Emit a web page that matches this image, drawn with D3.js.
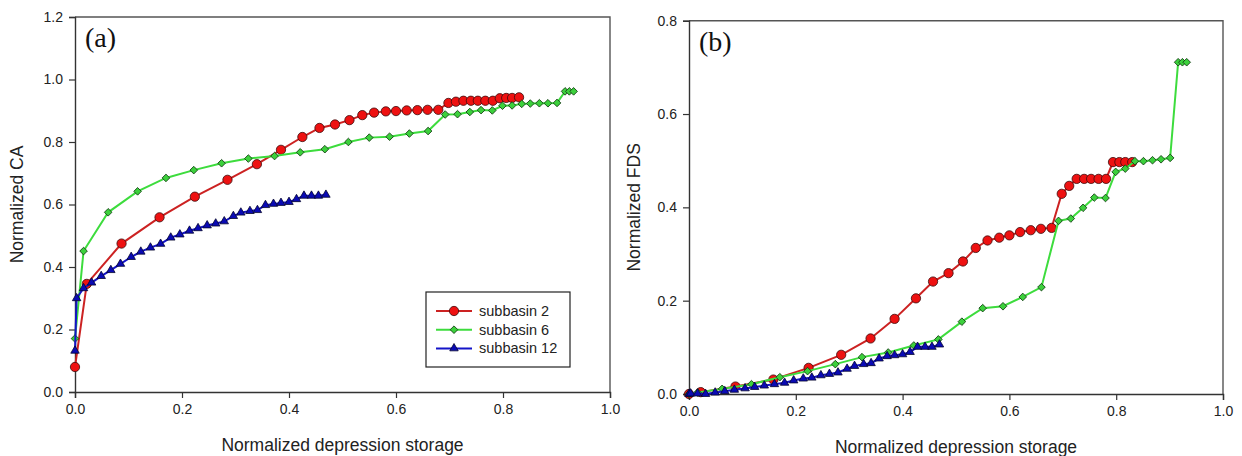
<!DOCTYPE html>
<html>
<head>
<meta charset="utf-8">
<script src="https://cdn.jsdelivr.net/npm/d3@7"></script>
<style>
  html, body { margin: 0; padding: 0; background: #fff; }
  svg { display: block; }
</style>
</head>
<body>
<svg id="chart" width="1242" height="456"></svg>
<script>
// Normalized depression storage (x) for each subbasin
const xSub2 = [0, 0.022, 0.087, 0.158, 0.224, 0.285, 0.340, 0.385, 0.425, 0.457, 0.486,
  0.513, 0.537, 0.559, 0.581, 0.600, 0.620, 0.640, 0.659, 0.679, 0.698, 0.712, 0.726,
  0.740, 0.753, 0.767, 0.781, 0.794, 0.806, 0.817, 0.830];
const xSub6 = [0, 0.016, 0.062, 0.117, 0.170, 0.222, 0.274, 0.324, 0.373, 0.421, 0.467,
  0.511, 0.550, 0.588, 0.625, 0.660, 0.692, 0.715, 0.738, 0.759, 0.780, 0.799, 0.817,
  0.835, 0.851, 0.868, 0.884, 0.901, 0.916, 0.924, 0.932];
const xSub12 = [0, 0.003, 0.016, 0.031, 0.049, 0.067, 0.085, 0.105, 0.123, 0.141, 0.160,
  0.179, 0.196, 0.214, 0.230, 0.247, 0.263, 0.279, 0.296, 0.310, 0.327, 0.341, 0.356,
  0.371, 0.385, 0.400, 0.414, 0.428, 0.442, 0.455, 0.469];

// Normalized CA, panel (a)
const caSub2 = [0.08, 0.346, 0.475, 0.559, 0.625, 0.679, 0.729, 0.775, 0.816, 0.845, 0.856,
  0.870, 0.886, 0.894, 0.898, 0.899, 0.901, 0.902, 0.903, 0.903, 0.925, 0.929, 0.932,
  0.932, 0.932, 0.932, 0.932, 0.940, 0.941, 0.941, 0.943];
const caSub6 = [0.171, 0.451, 0.575, 0.642, 0.685, 0.710, 0.732, 0.747, 0.755, 0.767, 0.777,
  0.800, 0.814, 0.817, 0.827, 0.835, 0.888, 0.889, 0.896, 0.902, 0.901, 0.916, 0.917,
  0.922, 0.923, 0.924, 0.924, 0.925, 0.962, 0.962, 0.962];
const caSub12 = [0.132, 0.300, 0.332, 0.350, 0.371, 0.390, 0.410, 0.432, 0.449, 0.462, 0.474,
  0.494, 0.504, 0.516, 0.524, 0.533, 0.539, 0.546, 0.563, 0.574, 0.579, 0.582, 0.598,
  0.602, 0.605, 0.608, 0.617, 0.628, 0.628, 0.628, 0.631];

// Normalized FDS, panel (b)
const fdsSub2 = [0.0, 0.004, 0.016, 0.031, 0.056, 0.084, 0.119, 0.161, 0.205, 0.241, 0.259,
  0.284, 0.313, 0.329, 0.335, 0.340, 0.347, 0.351, 0.354, 0.356, 0.429, 0.446, 0.461,
  0.461, 0.461, 0.461, 0.461, 0.497, 0.497, 0.497, 0.497];
const fdsSub6 = [0.0, 0.003, 0.011, 0.021, 0.036, 0.049, 0.064, 0.079, 0.089, 0.104, 0.117,
  0.155, 0.184, 0.188, 0.208, 0.229, 0.371, 0.376, 0.399, 0.421, 0.420, 0.476, 0.483,
  0.499, 0.499, 0.501, 0.503, 0.506, 0.711, 0.711, 0.711];
const fdsSub12 = [0.0, 0.001, 0.001, 0.0, 0.003, 0.006, 0.009, 0.012, 0.015, 0.018, 0.021,
  0.024, 0.029, 0.033, 0.035, 0.040, 0.043, 0.046, 0.054, 0.060, 0.064, 0.066, 0.076,
  0.081, 0.083, 0.085, 0.090, 0.101, 0.101, 0.101, 0.106];

const xTicks = [0, 0.2, 0.4, 0.6, 0.8, 1.0];
const caTicks = [0, 0.2, 0.4, 0.6, 0.8, 1.0, 1.2];
const fdsTicks = [0, 0.2, 0.4, 0.6, 0.8];
const seriesNames = ["subbasin 2", "subbasin 6", "subbasin 12"];

const SANS = "Arial, 'Liberation Sans', sans-serif";
const SERIF = "'Liberation Serif', 'Times New Roman', serif";

const styles = [
  { line: "#cc2222", fill: "#ee1111", stroke: "#3a0d0d", shape: "circle" },
  { line: "#3ddc3d", fill: "#3cd03c", stroke: "#0f3a0f", shape: "diamond" },
  { line: "#1414c8", fill: "#0a0ab4", stroke: "#05052e", shape: "triangle" }
];

const svg = d3.select("#chart");

function markerPath(shape) {
  if (shape === "circle") return d3.symbol(d3.symbolCircle, 68)();
  if (shape === "diamond") return d3.symbol(d3.symbolSquare, 29)();
  return d3.symbol(d3.symbolTriangle, 31)();
}

function drawPanel(cfg) {
  const x = d3.scaleLinear().domain([0, 1]).range([cfg.left, cfg.right]);
  const y = d3.scaleLinear().domain([0, cfg.ymax]).range([cfg.bottom, cfg.top]);
  const g = svg.append("g");

  // frame: top and right edges
  g.append("path")
    .attr("d", `M${cfg.left},${cfg.top}H${cfg.right}V${cfg.bottom}`)
    .attr("fill", "none").attr("stroke", "#555").attr("stroke-width", 1.4);

  const xAxis = g.append("g")
    .attr("transform", `translate(0,${cfg.bottom})`)
    .call(d3.axisBottom(x).tickValues(xTicks).tickFormat(d3.format(".1f")).tickSize(6).tickPadding(6));
  const yAxis = g.append("g")
    .attr("transform", `translate(${cfg.left},0)`)
    .call(d3.axisLeft(y).tickValues(cfg.yTicks).tickFormat(d3.format(".1f")).tickSize(6).tickPadding(6));
  [xAxis, yAxis].forEach(a => {
    a.select(".domain").attr("stroke", "#333").attr("stroke-width", 1.4);
    a.selectAll(".tick line").attr("stroke", "#333").attr("stroke-width", 1.2);
    a.selectAll(".tick text").attr("font-size", 14).attr("fill", "#222")
      .attr("font-family", SANS);
  });

  // axis titles
  g.append("text")
    .attr("x", (cfg.left + cfg.right) / 2).attr("y", cfg.xTitleY)
    .attr("text-anchor", "middle").attr("font-size", 17.5)
    .attr("font-family", SANS).attr("fill", "#222")
    .text("Normalized depression storage");
  g.append("text")
    .attr("transform", `translate(${cfg.yTitleX},${(cfg.top + cfg.bottom) / 2}) rotate(-90)`)
    .attr("text-anchor", "middle").attr("font-size", 17.5)
    .attr("font-family", SANS).attr("fill", "#222")
    .text(cfg.yTitle);

  // panel tag
  g.append("text")
    .attr("x", cfg.left + 10).attr("y", cfg.top + 30)
    .attr("font-family", SERIF)
    .attr("font-size", 28).attr("fill", "#111")
    .text(cfg.tag);

  const line = d3.line().x(d => x(d[0])).y(d => y(d[1]));
  cfg.series.forEach((s, i) => {
    const st = styles[i];
    const pts = s.xs.map((v, k) => [v, s.ys[k]]);
    const sg = g.append("g");
    sg.append("path").datum(pts)
      .attr("d", line).attr("fill", "none")
      .attr("stroke", st.line).attr("stroke-width", 2);
    sg.selectAll("path.m").data(pts).enter().append("path")
      .attr("class", "m")
      .attr("d", markerPath(st.shape))
      .attr("transform", d => `translate(${x(d[0])},${y(d[1])})` + (st.shape === "diamond" ? " rotate(45)" : ""))
      .attr("fill", st.fill).attr("stroke", st.stroke).attr("stroke-width", 0.8);
  });
  return { x, y, g };
}

drawPanel({
  left: 75, right: 610, top: 17, bottom: 392, ymax: 1.2, yTicks: caTicks,
  xTitleY: 451, yTitleX: 23, yTitle: "Normalized CA", tag: "(a)",
  series: [
    { xs: xSub2, ys: caSub2 },
    { xs: xSub6, ys: caSub6 },
    { xs: xSub12, ys: caSub12 }
  ]
});

drawPanel({
  left: 689, right: 1223, top: 20.7, bottom: 394, ymax: 0.8, yTicks: fdsTicks,
  xTitleY: 453, yTitleX: 640, yTitle: "Normalized FDS", tag: "(b)",
  series: [
    { xs: xSub2, ys: fdsSub2 },
    { xs: xSub6, ys: fdsSub6 },
    { xs: xSub12, ys: fdsSub12 }
  ]
});

// legend in panel (a)
const lg = svg.append("g").attr("transform", "translate(426,292)");
lg.append("rect").attr("width", 144).attr("height", 75)
  .attr("fill", "#fff").attr("stroke", "#222").attr("stroke-width", 1.2);
seriesNames.forEach((name, i) => {
  const st = styles[i];
  const yy = 19 + i * 18.7;
  lg.append("line").attr("x1", 10).attr("x2", 46).attr("y1", yy).attr("y2", yy)
    .attr("stroke", st.line).attr("stroke-width", 2);
  lg.append("path").attr("d", markerPath(st.shape))
    .attr("transform", `translate(28,${yy})` + (st.shape === "diamond" ? " rotate(45)" : ""))
    .attr("fill", st.fill).attr("stroke", st.stroke).attr("stroke-width", 0.8);
  lg.append("text").attr("x", 53).attr("y", yy + 5).attr("font-size", 14.5)
    .attr("font-family", SANS).attr("fill", "#222").text(name);
});
</script>
</body>
</html>
